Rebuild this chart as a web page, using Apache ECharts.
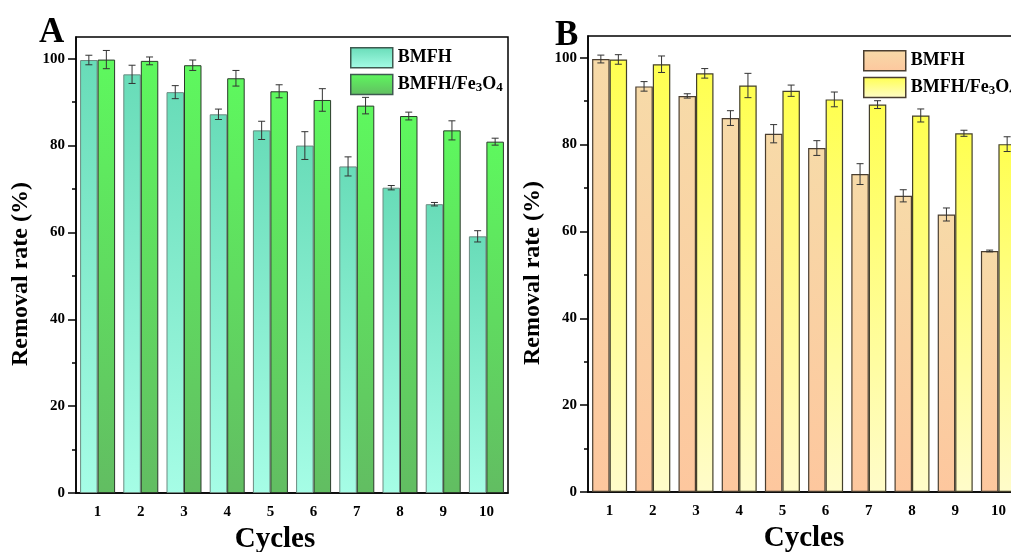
<!DOCTYPE html>
<html>
<head>
<meta charset="utf-8">
<script src="https://cdn.jsdelivr.net/npm/echarts@6/dist/echarts.min.js"></script>
<style>
  html, body { margin: 0; padding: 0; background: #fff; }
  #chart { width: 1011px; height: 552px; }
</style>
</head>
<body>
<div id="chart"></div>
<script>
// Removal rate over repeated cycles, two adsorbent sets (panels A and B)
const cycles = ['1', '2', '3', '4', '5', '6', '7', '8', '9', '10'];

// Panel A
const bmfhA      = [99.7, 96.4, 92.3, 87.2, 83.5, 80.0, 75.2, 70.3, 66.5, 59.1];
const bmfhErrA   = [1.1, 2.1, 1.5, 1.2, 2.1, 3.2, 2.2, 0.5, 0.4, 1.3];
const bmfhFeA    = [99.8, 99.5, 98.5, 95.5, 92.5, 90.5, 89.2, 86.8, 83.5, 80.9];
const bmfhFeErrA = [2.1, 0.9, 1.2, 1.8, 1.5, 2.6, 1.9, 0.9, 2.2, 0.8];

// Panel B
const bmfhB      = [99.7, 93.4, 91.2, 86.1, 82.5, 79.2, 73.2, 68.2, 63.9, 55.5];
const bmfhErrB   = [0.9, 1.1, 0.5, 1.7, 2.1, 1.7, 2.4, 1.4, 1.5, 0.2];
const bmfhFeB    = [99.6, 98.5, 96.4, 93.6, 92.4, 90.4, 89.2, 86.7, 82.6, 80.1];
const bmfhFeErrB = [1.1, 1.9, 1.1, 2.8, 1.3, 1.7, 0.9, 1.5, 0.7, 1.7];

const majorTicks = [0, 20, 40, 60, 80, 100];
const minorTicks = [10, 30, 50, 70, 90];
const seriesNames = ['BMFH', 'BMFH/Fe3O4'];
const panelLetters = ['A', 'B'];

const FONT = "'Liberation Serif', 'Times New Roman', serif";
const CAT_GAP = 0.19;

function grad(top, bottom) {
  return { type: 'linear', x: 0, y: 0, x2: 0, y2: 1,
           colorStops: [{ offset: 0, color: top }, { offset: 1, color: bottom }] };
}

const styles = [
  { // panel A
    a: { color: grad('#68dcb8', '#a6fde6'), borderColor: '#6c8a80', borderWidth: 1 },
    b: { color: grad('#5ef85e', '#62bd62'), borderColor: '#2a3a2a', borderWidth: 1 }
  },
  { // panel B
    a: { color: grad('#f7daa8', '#fdc79e'), borderColor: '#4a3e30', borderWidth: 1.2 },
    b: { color: grad('#ffff50', '#fffcca'), borderColor: '#44402a', borderWidth: 1.2 }
  }
];
const legendBorder = ['#3e5a50', '#4a3e30'];

const grids = [
  { left: 76, top: 37, width: 432, bottom: 59 },
  { left: 588, top: 36, width: 432, bottom: 60 }
].map(g => Object.assign(g, {
  show: true, borderColor: '#000', borderWidth: 1.5, backgroundColor: 'transparent',
  outerBoundsMode: 'none', containLabel: false
}));

const xAxes = [], yAxes = [];
grids.forEach((g, i) => {
  // labelled axis with ticks at category centres
  xAxes.push({
    type: 'category', gridIndex: i, data: cycles, position: 'bottom',
    axisLine: { lineStyle: { color: '#000', width: 1.5 } },
    axisTick: { alignWithLabel: true, length: 6, lineStyle: { color: '#000', width: 1.5 } },
    axisLabel: { margin: 12, color: '#000', fontSize: 15, fontWeight: 'bold', fontFamily: FONT },
    name: 'Cycles', nameLocation: 'middle', nameGap: 30,
    nameTextStyle: { color: '#000', fontSize: 29, fontWeight: 'bold', fontFamily: FONT,
                     padding: i === 0 ? [0, 34, 0, 0] : [0, 0, 0, 0] }
  });
  // short ticks on category boundaries
  xAxes.push({
    type: 'category', gridIndex: i, data: cycles, position: 'bottom',
    axisLine: { show: false },
    axisTick: { length: 3, lineStyle: { color: '#000', width: 1.5 } },
    axisLabel: { show: false }
  });
  yAxes.push({
    type: 'value', gridIndex: i, min: 0, max: 105, interval: 20, position: 'left',
    splitLine: { show: false },
    axisLine: { show: true, lineStyle: { color: '#000', width: 1.5 } },
    axisTick: { show: true, length: 8, customValues: majorTicks, lineStyle: { color: '#000', width: 1.5 } },
    axisLabel: { margin: 11, customValues: majorTicks, color: '#000', fontSize: 15, fontWeight: 'bold', fontFamily: FONT },
    name: 'Removal rate (%)', nameLocation: 'middle', nameGap: 43, nameRotate: 90,
    nameTextStyle: { color: '#000', fontSize: 24, fontWeight: 'bold', fontFamily: FONT, padding: [0, 18, 0, 0] }
  });
  yAxes.push({
    type: 'value', gridIndex: i, min: 0, max: 105, interval: 20, position: 'left',
    splitLine: { show: false },
    axisLine: { show: false },
    axisTick: { show: true, length: 4, customValues: minorTicks, lineStyle: { color: '#000', width: 1.5 } },
    axisLabel: { show: false }
  });
});

// error bars placed on the left/right bar of each category pair
function errorBars(side) {
  return function (params, api) {
    const idx = api.value(0), v = api.value(1), e = api.value(2);
    const band = api.size([1, 0])[0];
    const bw = band * (1 - CAT_GAP) / 2;
    const cx = api.coord([idx, v])[0] + side * bw / 2;
    const yT = api.coord([idx, v + e])[1];
    const yB = api.coord([idx, v - e])[1];
    const cap = 3.5;
    const st = { stroke: '#333', lineWidth: 1 };
    return {
      type: 'group',
      children: [
        { type: 'line', shape: { x1: cx, y1: yT, x2: cx, y2: yB }, style: st },
        { type: 'line', shape: { x1: cx - cap, y1: yT, x2: cx + cap, y2: yT }, style: st },
        { type: 'line', shape: { x1: cx - cap, y1: yB, x2: cx + cap, y2: yB }, style: st }
      ]
    };
  };
}

const panels = [
  { a: bmfhA, aErr: bmfhErrA, b: bmfhFeA, bErr: bmfhFeErrA },
  { a: bmfhB, aErr: bmfhErrB, b: bmfhFeB, bErr: bmfhFeErrB }
];

const series = [];
panels.forEach((p, i) => {
  const xi = i * 2, yi = i * 2;
  series.push({
    type: 'bar', name: seriesNames[0], xAxisIndex: xi, yAxisIndex: yi, data: p.a,
    barGap: '0%', barCategoryGap: (CAT_GAP * 100) + '%', itemStyle: styles[i].a, z: 2
  });
  series.push({
    type: 'bar', name: seriesNames[1], xAxisIndex: xi, yAxisIndex: yi, data: p.b,
    barGap: '0%', barCategoryGap: (CAT_GAP * 100) + '%', itemStyle: styles[i].b, z: 2
  });
  series.push({
    type: 'custom', xAxisIndex: xi, yAxisIndex: yi, z: 5, silent: true,
    renderItem: errorBars(-1), data: p.a.map((v, k) => [k, v, p.aErr[k]])
  });
  series.push({
    type: 'custom', xAxisIndex: xi, yAxisIndex: yi, z: 5, silent: true,
    renderItem: errorBars(1), data: p.b.map((v, k) => [k, v, p.bErr[k]])
  });
});

const legendText = {
  color: '#000', fontSize: 18, fontWeight: 'bold', fontFamily: FONT, lineHeight: 20,
  rich: {
    n: { fontSize: 18, fontWeight: 'bold', fontFamily: FONT, color: '#000', lineHeight: 20 },
    s: { fontSize: 13, fontWeight: 'bold', fontFamily: FONT, color: '#000', verticalAlign: 'bottom', lineHeight: 20, padding: [9, 0, 0, 0] }
  }
};
function legendFormat(name) {
  return name === 'BMFH/Fe3O4' ? '{n|BMFH/Fe}{s|3}{n|O}{s|4}' : '{n|' + name + '}';
}
const legendPos = [{ left: 345, top: 42 }, { left: 858, top: 45 }];
const legends = legendPos.map((pos, i) => ({
  left: pos.left, top: pos.top, orient: 'vertical',
  itemWidth: 42, itemHeight: 20, itemGap: 4, icon: 'rect',
  selectedMode: false, formatter: legendFormat, textStyle: legendText,
  data: [
    { name: seriesNames[0], itemStyle: Object.assign({}, styles[i].a, { borderColor: legendBorder[i], borderWidth: 1.5 }) },
    { name: seriesNames[1], itemStyle: Object.assign({}, styles[i].b, { borderColor: legendBorder[i], borderWidth: 1.5 }) }
  ]
}));

const titles = [
  { text: panelLetters[0], left: 39, top: 15 },
  { text: panelLetters[1], left: 555, top: 18 }
].map(t => Object.assign(t, {
  padding: 0,
  textStyle: { color: '#000', fontSize: 35, fontWeight: 'bold', fontFamily: FONT }
}));

const chart = echarts.init(document.getElementById('chart'), null, { renderer: 'canvas' });
chart.setOption({
  animation: false,
  backgroundColor: '#fff',
  title: titles,
  legend: legends,
  grid: grids,
  xAxis: xAxes,
  yAxis: yAxes,
  series: series
});
</script>
</body>
</html>
